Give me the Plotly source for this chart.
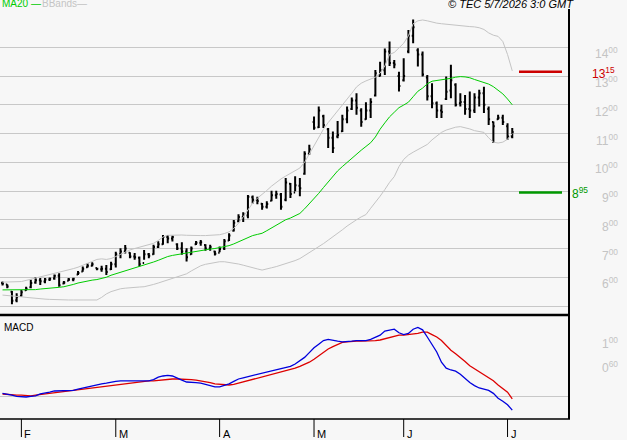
import pandas as pd
import plotly.graph_objects as go

# ---------------- data ----------------
holidays = ["2026-04-03", "2026-04-06", "2026-05-01", "2026-05-25"]
dates = pd.bdate_range("2026-01-27", "2026-07-02").drop(pd.to_datetime(holidays))

open_ = [580, 575, 550, 520, 535, 555, 565, 582, 590, 585, 592, 596, 605, 578, 588, 592, 610, 620, 635, 640,
         632, 628, 630, 628, 645, 680, 690, 685, 672, 668, 650, 680, 680, 705, 715, 740, 735, 715, 700, 690,
         680, 715, 720, 712, 700, 690, 685, 700, 728, 762, 795, 810, 815, 878, 870, 856, 845, 866, 885, 888,
         870, 925, 895, 918, 960, 1030, 1140, 1122, 1160, 1115, 1085, 1090, 1108, 1150, 1185, 1215, 1180, 1150, 1180, 1232,
         1300, 1320, 1385, 1345, 1300, 1285, 1385, 1440, 1390, 1375, 1295, 1230, 1205, 1180, 1220, 1250, 1270, 1205, 1210, 1185,
         1180, 1225, 1240, 1185, 1140, 1150, 1155, 1125, 1090]
high = [585, 576, 552, 544, 556, 567, 591, 600, 597, 597, 599, 610, 614, 587, 597, 598, 622, 637, 649, 652,
        633, 640, 643, 654, 689, 701, 712, 687, 684, 672, 695, 684, 713, 725, 747, 747, 745, 718, 722, 701,
        707, 726, 730, 715, 713, 692, 707, 733, 753, 799, 819, 826, 886, 884, 880, 858, 864, 901, 901, 893,
        945, 928, 951, 945, 1038, 1061, 1159, 1194, 1165, 1119, 1107, 1144, 1165, 1194, 1225, 1240, 1188, 1209, 1223, 1321,
        1350, 1396, 1420, 1356, 1315, 1362, 1460, 1497, 1397, 1385, 1304, 1275, 1211, 1200, 1298, 1339, 1275, 1240, 1234, 1246,
        1240, 1252, 1263, 1194, 1142, 1165, 1165, 1136, 1119]
low = [571, 562, 506, 513, 533, 553, 562, 577, 573, 579, 587, 591, 567, 576, 587, 586, 608, 619, 633, 637,
       624, 619, 608, 625, 634, 666, 683, 666, 661, 637, 661, 666, 678, 702, 713, 718, 724, 695, 678, 655,
       678, 712, 710, 692, 692, 676, 687, 695, 726, 759, 791, 792, 805, 857, 854, 835, 839, 864, 873, 835,
       864, 876, 899, 882, 957, 1026, 1113, 1119, 1119, 1050, 1032, 1084, 1105, 1136, 1182, 1165, 1124, 1148, 1154, 1229,
       1298, 1304, 1335, 1327, 1246, 1281, 1379, 1414, 1333, 1298, 1215, 1188, 1154, 1154, 1217, 1223, 1194, 1194, 1165, 1154,
       1171, 1194, 1171, 1130, 1067, 1148, 1130, 1078, 1084]
close = [578, 568, 518, 532, 548, 560, 580, 590, 586, 592, 595, 605, 572, 582, 592, 595, 615, 630, 640, 645,
         630, 630, 618, 645, 680, 690, 700, 672, 670, 645, 680, 675, 705, 715, 740, 735, 740, 700, 690, 670,
         700, 720, 722, 700, 705, 682, 698, 725, 745, 790, 810, 818, 880, 870, 865, 845, 855, 885, 890, 845,
         930, 890, 920, 910, 1030, 1045, 1120, 1180, 1130, 1085, 1050, 1095, 1150, 1180, 1215, 1190, 1140, 1180, 1210, 1310,
         1320, 1385, 1345, 1340, 1265, 1300, 1440, 1470, 1375, 1305, 1230, 1205, 1180, 1175, 1245, 1285, 1200, 1210, 1185, 1180,
         1225, 1240, 1200, 1150, 1125, 1155, 1140, 1090, 1105]

ma20 = [556, 556, 556, 556, 556, 556, 557, 557, 559, 560, 561, 563, 565, 567, 570, 575, 580, 584, 588, 590,
        592, 595, 600, 607, 612, 617, 622, 627, 632, 636, 641, 647, 653, 659, 666, 672, 676, 679, 682, 684,
        686, 689, 692, 696, 698, 700, 703, 706, 710, 716, 723, 731, 739, 745, 749, 753, 762, 772, 782, 792,
        800, 806, 813, 822, 838, 855, 872, 892, 912, 932, 950, 970, 985, 1000, 1014, 1028, 1042, 1055, 1068, 1088,
        1115, 1137, 1158, 1174, 1190, 1199, 1209, 1228, 1247, 1258, 1273, 1282, 1284, 1286, 1289, 1292, 1296, 1298, 1297, 1294,
        1288, 1282, 1277, 1272, 1263, 1252, 1238, 1220, 1200]
bb_upper = [583, 583, 584, 585, 585, 589, 593, 597, 601, 605, 609, 613, 616, 620, 625, 630, 635, 641, 648, 655,
            662, 664, 662, 665, 672, 680, 688, 695, 700, 704, 708, 713, 718, 728, 740, 746, 747, 747, 747, 746,
            745, 745, 745, 745, 746, 747, 748, 752, 758, 770, 788, 810, 835, 858, 875, 887, 902, 917, 930, 942,
            952, 962, 972, 980, 1000, 1030, 1055, 1085, 1115, 1138, 1158, 1178, 1197, 1218, 1240, 1262, 1275, 1283, 1290, 1296,
            1310, 1335, 1375, 1382, 1398, 1414, 1440, 1482, 1492, 1495, 1492, 1487, 1484, 1482, 1480, 1478, 1477, 1476, 1474, 1472,
            1471, 1468, 1462, 1450, 1442, 1438, 1420, 1375, 1318]
bb_lower = [538, 537, 535, 534, 532, 530, 528, 526, 525, 524, 523, 522, 522, 521, 521, 521, 521, 521, 521, 521,
            521, 530, 542, 550, 556, 560, 562, 564, 565, 566, 567, 570, 575, 580, 585, 590, 595, 600, 606, 612,
            622, 632, 640, 645, 648, 651, 654, 654, 652, 649, 646, 642, 637, 633, 629, 625, 628, 633, 637, 642,
            646, 652, 658, 665, 675, 685, 695, 705, 717, 729, 740, 752, 765, 778, 790, 800, 810, 818, 840, 860,
            882, 905, 930, 950, 985, 1010, 1025, 1035, 1045, 1053, 1062, 1078, 1092, 1104, 1112, 1118, 1122, 1124, 1121, 1116,
            1110, 1107, 1104, 1085, 1070, 1067, 1070, 1080, 1100]

macd = [6, 5, 3, 1, 0, 0, 1, 2, 5, 6, 8, 10, 10, 11, 11, 11, 13, 15, 17, 18,
        20, 22, 23, 25, 26, 27, 27, 26, 26, 26, 26, 27, 29, 33, 35, 36, 35, 31, 28, 25,
        25, 24, 23, 21, 19, 17, 17, 19, 22, 26, 30, 32, 34, 36, 38, 40, 42, 44, 46, 48,
        50, 51, 55, 60, 66, 74, 82, 88, 94, 96, 94, 93, 92, 92, 93, 94, 94, 94, 96, 99,
        103, 110, 112, 113, 107, 104, 106, 113, 116, 112, 100, 88, 75, 58, 48, 45, 43, 38, 31, 24,
        19, 15, 13, 11, 6, -2, -7, -13, -22]
signal = [5, 4, 4, 3, 3, 2, 2, 3, 4, 5, 6, 7, 8, 9, 10, 11, 13, 14, 15, 16,
          17, 18, 19, 20, 21, 22, 23, 24, 25, 25, 26, 27, 27, 28, 29, 30, 30, 30, 30, 30,
          29, 28, 27, 25, 24, 22, 21, 20, 20, 21, 23, 25, 27, 29, 31, 34, 36, 38, 40, 42,
          44, 46, 48, 51, 54, 58, 63, 69, 75, 80, 84, 88, 91, 92, 93, 93, 93, 93, 94, 94,
          95, 97, 100, 102, 103, 103, 104, 104, 106, 108, 108, 104, 100, 94, 86, 78, 72, 66, 59, 52,
          47, 42, 37, 32, 27, 20, 14, 8, -3]

price_ticks = [500, 600, 700, 800, 900, 1000, 1100, 1200, 1300, 1400]
macd_ticks = [100, 60]
resistance = 1315
support = 895
stamp = "© TEC 5/7/2026 3:0 GMT"

# ---------------- figure ----------------
W, H = 627, 440
idx = list(range(len(dates)))
X_RIGHT = 569  # right edge of the plotting area (px)


def px(v):
    return v / W


def py(v):
    return 1 - v / H


fig = go.Figure()
fig.add_trace(go.Scatter(x=idx, y=bb_upper, mode="lines", line=dict(color="#c4c4c4", width=1),
                         xaxis="x", yaxis="y", hoverinfo="skip"))
fig.add_trace(go.Scatter(x=idx, y=bb_lower, mode="lines", line=dict(color="#c4c4c4", width=1),
                         xaxis="x", yaxis="y", hoverinfo="skip"))
fig.add_trace(go.Scatter(x=idx, y=ma20, mode="lines", line=dict(color="#00cc00", width=1),
                         xaxis="x", yaxis="y", hoverinfo="skip"))
fig.add_trace(go.Ohlc(x=idx, open=open_, high=high, low=low, close=close,
                      increasing=dict(line=dict(color="black", width=2)),
                      decreasing=dict(line=dict(color="black", width=2)),
                      tickwidth=0.3, xaxis="x", yaxis="y"))
fig.add_trace(go.Scatter(x=idx, y=signal, mode="lines", line=dict(color="#dd0000", width=1.3),
                         xaxis="x", yaxis="y2", hoverinfo="skip"))
fig.add_trace(go.Scatter(x=idx, y=macd, mode="lines", line=dict(color="#0000dd", width=1.3),
                         xaxis="x", yaxis="y2", hoverinfo="skip"))

x0, x1 = -0.53, -0.53 + X_RIGHT / 4.72

fig.update_layout(
    width=W, height=H, autosize=False,
    margin=dict(l=0, r=0, t=0, b=0),
    paper_bgcolor="#f7f7f7", plot_bgcolor="#f7f7f7",
    showlegend=False,
    font=dict(family="Liberation Sans, Arial, sans-serif", size=11, color="black"),
    xaxis=dict(domain=[0, px(X_RIGHT)], range=[x0, x1], showgrid=False, zeroline=False,
               showticklabels=False, showline=False, ticks="", rangeslider=dict(visible=False),
               anchor="y2", fixedrange=True),
    yaxis=dict(domain=[py(315), 1], range=[468.7, 1564.5], tickvals=price_ticks,
               showticklabels=False, showgrid=True, gridcolor="#c8c8c8", gridwidth=1,
               zeroline=False, showline=False, ticks="", fixedrange=True),
    yaxis2=dict(domain=[py(419), py(316)], range=[-36.7, 135], tickvals=[0],
                showticklabels=False, showgrid=True, gridcolor="#c8c8c8", gridwidth=1,
                zeroline=False, showline=False, ticks="", fixedrange=True),
)

shapes = [
    # frame lines
    dict(type="line", xref="paper", yref="paper", x0=px(X_RIGHT), x1=px(X_RIGHT), y0=py(9), y1=py(419),
         line=dict(color="black", width=2)),
    dict(type="line", xref="paper", yref="paper", x0=0, x1=px(X_RIGHT + 1), y0=py(315), y1=py(315),
         line=dict(color="black", width=2.5)),
    dict(type="line", xref="paper", yref="paper", x0=0, x1=px(X_RIGHT + 1), y0=py(419), y1=py(419),
         line=dict(color="black", width=1.5)),
    # resistance / support levels
    dict(type="line", xref="paper", yref="y", x0=px(519), x1=px(562), y0=resistance, y1=resistance,
         line=dict(color="#cc0000", width=2.5)),
    dict(type="line", xref="paper", yref="y", x0=px(519), x1=px(562), y0=support, y1=support,
         line=dict(color="#009900", width=2.5)),
]

annotations = []
for v in price_ticks:
    if v == 500:
        continue
    s = str(v)
    annotations.append(dict(xref="paper", yref="y", x=px(620), y=v, yshift=-6, xanchor="right",
                            yanchor="middle", showarrow=False,
                            text=f"{s[:-2]}<sup>{s[-2:]}</sup>",
                            font=dict(color="#c4c4c4", size=12)))
for v in macd_ticks:
    s = f"{v:03d}"
    annotations.append(dict(xref="paper", yref="y2", x=px(620), y=v, yshift=-6, xanchor="right",
                            yanchor="middle", showarrow=False,
                            text=f"{s[:-2]}<sup>{s[-2:]}</sup>",
                            font=dict(color="#c4c4c4", size=12)))

rs, ss = str(resistance), str(support)
annotations.append(dict(xref="paper", yref="y", x=px(617), y=resistance, yshift=-1, xanchor="right",
                        yanchor="middle", showarrow=False, text=f"{rs[:-2]}<sup>{rs[-2:]}</sup>",
                        font=dict(color="#cc0000", size=12)))
annotations.append(dict(xref="paper", yref="y", x=px(570), y=support, yshift=-1, xanchor="left",
                        yanchor="middle", showarrow=False, text=f"{ss[:-2]}<sup>{ss[-2:]}</sup>",
                        font=dict(color="#009900", size=12)))

# legends / labels
annotations.append(dict(xref="paper", yref="paper", x=px(0), y=py(4), xanchor="left", yanchor="middle",
                        showarrow=False, text="MA20 —", font=dict(color="#00cc00", size=10)))
annotations.append(dict(xref="paper", yref="paper", x=px(40), y=py(4), xanchor="left", yanchor="middle",
                        showarrow=False, text="BBands—", font=dict(color="#c4c4c4", size=10)))
annotations.append(dict(xref="paper", yref="paper", x=px(576), y=py(4), xanchor="right", yanchor="middle",
                        showarrow=False, text=f"<i>{stamp}</i>", font=dict(color="black", size=11)))
annotations.append(dict(xref="paper", yref="paper", x=px(2), y=py(327), xanchor="left", yanchor="middle",
                        showarrow=False, text="MACD", font=dict(color="black", size=10)))

# month ticks at the first bar of each new month
prev = None
for i, d in enumerate(dates):
    if prev is not None and d.month != prev:
        shapes.append(dict(type="line", xref="x", yref="paper", x0=i, x1=i, y0=py(419), y1=py(437),
                           line=dict(color="black", width=1)))
        annotations.append(dict(xref="x", yref="paper", x=i, xshift=1, y=py(434), xanchor="left",
                                yanchor="middle", showarrow=False, text=d.strftime("%b")[0],
                                font=dict(color="black", size=11)))
    prev = d.month
fig.update_layout(shapes=shapes, annotations=annotations)

fig.write_html("out.html", config={"displayModeBar": False})
